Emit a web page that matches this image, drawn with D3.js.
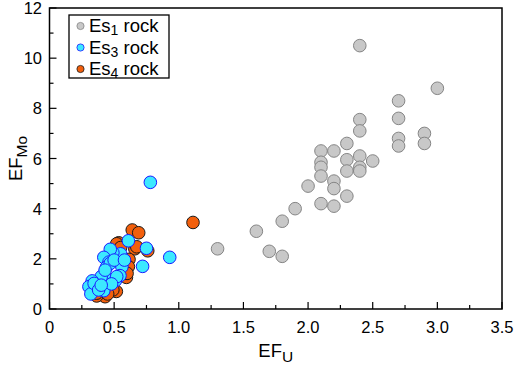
<!DOCTYPE html>
<html>
<head>
<meta charset="utf-8">
<script src="https://d3js.org/d3.v7.min.js"></script>
<style>
  body { margin: 0; background: #fff; }
  text { font-family: "Liberation Sans", Arial, sans-serif; }
</style>
</head>
<body>
<div id="chart"></div>
<script>
// Es1 rock (grey)
const es1X = [1.3, 1.6, 1.7, 1.8, 1.8, 1.9, 2.0, 2.1, 2.1, 2.1, 2.1, 2.1, 2.2, 2.2, 2.2, 2.2, 2.3, 2.3, 2.3, 2.3,
              2.4, 2.4, 2.4, 2.4, 2.4, 2.4, 2.5, 2.7, 2.7, 2.7, 2.7, 2.9, 2.9, 3.0];
const es1Y = [2.4, 3.1, 2.3, 2.1, 3.5, 4.0, 4.9, 6.3, 5.85, 5.65, 5.3, 4.2, 6.3, 5.1, 4.8, 4.1, 6.6, 5.95, 5.5, 4.5,
              10.5, 7.55, 7.1, 6.1, 5.65, 5.5, 5.9, 8.3, 7.6, 6.8, 6.5, 7.0, 6.6, 8.8];
// Es4 rock (orange)
const es4X = [1.11, 0.64, 0.69, 0.535, 0.66, 0.76, 0.615, 0.61, 0.595, 0.517, 0.49, 0.43, 0.365, 0.675, 0.60, 0.365, 0.52, 0.55, 0.45];
const es4Y = [3.45, 3.15, 3.04, 2.64, 2.40, 2.32, 1.98, 1.69, 1.26, 0.70, 0.76, 0.49, 0.52, 2.48, 1.42, 0.63, 2.6, 2.45, 0.6];
// Es3 rock (cyan)
const es3X = [0.78, 0.93, 0.75, 0.72, 0.61, 0.55, 0.49, 0.47, 0.42, 0.46, 0.44, 0.56, 0.545, 0.44, 0.40, 0.33, 0.305,
              0.32, 0.42, 0.51, 0.47, 0.43, 0.52, 0.345, 0.38, 0.50, 0.48, 0.40, 0.58];
const es3Y = [5.05, 2.06, 2.42, 1.70, 2.72, 2.2, 2.24, 2.38, 2.06, 1.87, 1.66, 1.68, 1.33, 1.21, 1.29, 1.12, 0.89,
              0.60, 0.73, 1.13, 1.82, 1.55, 1.29, 1.02, 0.76, 1.95, 1.0, 0.95, 1.95];

const xTicks = [0, 0.5, 1.0, 1.5, 2.0, 2.5, 3.0, 3.5];
const yTicks = [0, 2, 4, 6, 8, 10, 12];

const W = 519, H = 365;
const margin = {top: 8, right: 17, bottom: 56, left: 49.5};

const svg = d3.select("#chart").append("svg")
    .attr("width", W).attr("height", H);

const x = d3.scaleLinear().domain([0, 3.5]).range([margin.left, W - margin.right]);
const y = d3.scaleLinear().domain([0, 12]).range([H - margin.bottom, margin.top]);

// x axis ticks (inward)
const xMinor = d3.range(0, 3.5001, 0.25);
svg.append("g").selectAll("line").data(xMinor).enter().append("line")
    .attr("x1", d => x(d)).attr("x2", d => x(d))
    .attr("y1", y(0))
    .attr("y2", (d, i) => y(0) - (i % 2 === 0 ? 7 : 4))
    .attr("stroke", "#000").attr("stroke-width", 1.2);
svg.append("g").selectAll("text").data(xTicks).enter().append("text")
    .attr("x", d => x(d)).attr("y", 333)
    .attr("text-anchor", "middle").attr("font-size", 16.5)
    .text(d => d === 0 ? "0" : d.toFixed(1));

// y axis ticks (inward)
const yMinor = d3.range(0, 12.001, 1);
svg.append("g").selectAll("line").data(yMinor).enter().append("line")
    .attr("x1", x(0))
    .attr("x2", (d, i) => x(0) + (i % 2 === 0 ? 7 : 4))
    .attr("y1", d => y(d)).attr("y2", d => y(d))
    .attr("stroke", "#000").attr("stroke-width", 1.2);
svg.append("g").selectAll("text").data(yTicks).enter().append("text")
    .attr("x", 42).attr("y", d => y(d) + 6)
    .attr("text-anchor", "end").attr("font-size", 16.5)
    .text(d => d);

// frame
svg.append("rect")
    .attr("x", x(0)).attr("y", y(12))
    .attr("width", x(3.5) - x(0)).attr("height", y(0) - y(12))
    .attr("fill", "none").attr("stroke", "#000").attr("stroke-width", 1.5);

// points
function drawSeries(xs, ys, fill, stroke) {
  svg.append("g").selectAll("circle").data(xs.map((d, i) => [d, ys[i]])).enter()
    .append("circle")
    .attr("cx", d => x(d[0])).attr("cy", d => y(d[1]))
    .attr("r", 6.3)
    .attr("fill", fill).attr("stroke", stroke).attr("stroke-width", 1);
}
drawSeries(es1X, es1Y, "#c8c8c8", "#858585");
drawSeries(es4X, es4Y, "#f25f0c", "#1a1a1a");
drawSeries(es3X, es3Y, "#3ce9ff", "#1a1aff");

// axis titles
const xt = svg.append("text").attr("x", x(1.75)).attr("y", 357)
    .attr("text-anchor", "middle").attr("font-size", 18.5);
xt.append("tspan").text("EF");
xt.append("tspan").attr("font-size", 15.5).attr("dy", 5).text("U");

const yt = svg.append("text")
    .attr("transform", `translate(22,${(y(0) + y(12)) / 2}) rotate(-90)`)
    .attr("text-anchor", "middle").attr("font-size", 18.5);
yt.append("tspan").text("EF");
yt.append("tspan").attr("font-size", 15.5).attr("dy", 5).text("Mo");

// legend
const legend = [
  {sub: "1", fill: "#c8c8c8", stroke: "#858585"},
  {sub: "3", fill: "#3ce9ff", stroke: "#1a1aff"},
  {sub: "4", fill: "#f25f0c", stroke: "#1a1a1a"}
];
svg.append("rect").attr("x", 69).attr("y", 15).attr("width", 100).attr("height", 63)
    .attr("fill", "#fff").attr("stroke", "#000").attr("stroke-width", 1.3);
legend.forEach((l, i) => {
  const cy = 26 + i * 21.5;
  svg.append("circle").attr("cx", 80.5).attr("cy", cy).attr("r", 3.6)
      .attr("fill", l.fill).attr("stroke", l.stroke).attr("stroke-width", 0.8);
  const t = svg.append("text").attr("x", 89).attr("y", cy + 6).attr("font-size", 18.5);
  t.append("tspan").text("Es");
  t.append("tspan").attr("font-size", 14).attr("dy", 3).text(l.sub);
  t.append("tspan").attr("dy", -3).text(" rock");
});
</script>
</body>
</html>
